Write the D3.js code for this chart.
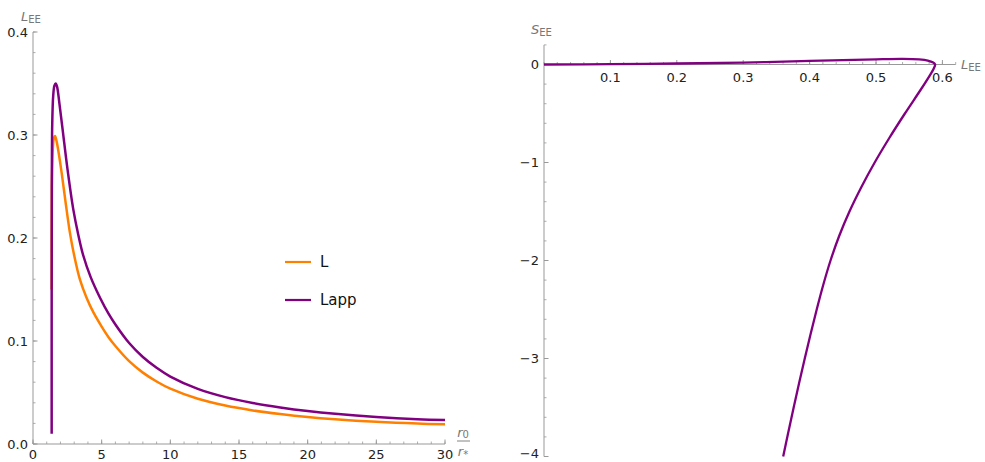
<!DOCTYPE html>
<html>
<head>
<meta charset="utf-8">
<script src="https://cdn.jsdelivr.net/npm/d3@7"></script>
<style>
  body { margin: 0; background: #fff; }
  svg { display: block; }
  text { font-family: "DejaVu Sans", sans-serif; }
</style>
</head>
<body>
<svg id="chart" width="985" height="462"></svg>
<script>
// ---------- Data ----------
// Left panel: L_EE vs r0/r*
const rL    = [1.36, 1.37, 1.40, 1.45, 1.52, 1.60, 1.70, 1.84, 2.09, 2.4, 2.69, 3.0, 3.42, 3.9, 4.39, 5, 5.5, 6, 7, 8, 9, 10, 12, 14, 16, 18, 20, 22, 25, 28, 30];
const valL  = [0.15, 0.25, 0.27, 0.288, 0.297, 0.299, 0.295, 0.285, 0.263, 0.232, 0.205, 0.183, 0.1595, 0.142, 0.128, 0.114, 0.1037, 0.0951, 0.0804, 0.0693, 0.0607, 0.0537, 0.0439, 0.0373, 0.0326, 0.0291, 0.0262, 0.0240, 0.0215, 0.0198, 0.0191];
const rLapp   = [1.36, 1.36, 1.37, 1.40, 1.47, 1.56, 1.65, 1.75, 1.92, 2.16, 2.5, 2.93, 3.3, 3.66, 4.2, 4.88, 5.5, 6, 7, 8, 9, 10, 12, 14, 16, 18, 20, 22, 25, 28, 30];
const valLapp = [0.01, 0.15, 0.25, 0.31, 0.338, 0.348, 0.350, 0.347, 0.331, 0.305, 0.268, 0.228, 0.203, 0.183, 0.162, 0.142, 0.1265, 0.116, 0.098, 0.0845, 0.074, 0.0655, 0.0535, 0.0455, 0.0398, 0.0355, 0.0320, 0.0293, 0.0262, 0.0241, 0.0233];
const seriesNames = ["L", "Lapp"];
const seriesColors = ["#FF8000", "#800080"];

const leftXTicks = [0, 5, 10, 15, 20, 25, 30];
const leftYTicks = [0.0, 0.1, 0.2, 0.3, 0.4];

// Right panel: S_EE vs L_EE (parametric)
const Lee = [0, 0.1, 0.2, 0.3, 0.4, 0.45, 0.5, 0.54, 0.565, 0.578, 0.586, 0.589, 0.587, 0.582, 0.568, 0.5435, 0.52, 0.498, 0.478, 0.46, 0.4445, 0.4315, 0.4205, 0.4107, 0.4015, 0.3927, 0.3842, 0.376, 0.368, 0.3602];
const See = [0, 0.004, 0.01, 0.02, 0.036, 0.045, 0.053, 0.057, 0.052, 0.04, 0.02, 0.0, -0.04, -0.1, -0.25, -0.5, -0.75, -1.0, -1.25, -1.5, -1.75, -2.0, -2.25, -2.5, -2.75, -3.0, -3.25, -3.5, -3.75, -4.0];

const rightXTicks = [0.1, 0.2, 0.3, 0.4, 0.5, 0.6];
const rightYTicks = [0, -1, -2, -3, -4];

// ---------- Drawing ----------
const svg = d3.select("#chart");
const axisColor = "#999999";
const labelColor = "#777777";
const tickTextColor = "#222222";

function fmtMinus(v, dec) {
  const s = d3.format(dec)(Math.abs(v));
  return v < 0 ? "\u2212" + s : s;
}

// Mathematica-style axes (ticks pointing inward)
function drawXAxis(g, x, yPix, domain, majors, minorStep, labelFmt, skipZeroLabel, labelBase) {
  g.append("line").attr("x1", x(domain[0])).attr("x2", x(domain[1]))
    .attr("y1", yPix).attr("y2", yPix).attr("stroke", axisColor).attr("stroke-width", 1);
  const minors = d3.range(Math.ceil(domain[0] / minorStep), Math.floor(domain[1] / minorStep + 1e-9) + 1)
    .map(i => i * minorStep);
  g.selectAll(null).data(minors).enter().append("line")
    .attr("x1", d => x(d)).attr("x2", d => x(d))
    .attr("y1", yPix).attr("y2", yPix - 2.5)
    .attr("stroke", axisColor).attr("stroke-width", 0.8);
  g.selectAll(null).data(majors).enter().append("line")
    .attr("x1", d => x(d)).attr("x2", d => x(d))
    .attr("y1", yPix).attr("y2", yPix - 4.5)
    .attr("stroke", axisColor).attr("stroke-width", 1);
  g.selectAll(null).data(majors.filter(d => !(skipZeroLabel && d === 0))).enter().append("text")
    .attr("x", d => x(d)).attr("y", labelBase)
    .attr("text-anchor", "middle").attr("font-size", 13).attr("fill", tickTextColor)
    .text(labelFmt);
}

function drawYAxis(g, y, xPix, domain, majors, minorStep, labelFmt, maxCenter) {
  g.append("line").attr("x1", xPix).attr("x2", xPix)
    .attr("y1", y(domain[0])).attr("y2", y(domain[1])).attr("stroke", axisColor).attr("stroke-width", 1);
  const minors = d3.range(Math.ceil(domain[0] / minorStep - 1e-9), Math.floor(domain[1] / minorStep + 1e-9) + 1)
    .map(i => i * minorStep);
  g.selectAll(null).data(minors).enter().append("line")
    .attr("x1", xPix).attr("x2", xPix + 2.5)
    .attr("y1", d => y(d)).attr("y2", d => y(d))
    .attr("stroke", axisColor).attr("stroke-width", 0.8);
  g.selectAll(null).data(majors).enter().append("line")
    .attr("x1", xPix).attr("x2", xPix + 4.5)
    .attr("y1", d => y(d)).attr("y2", d => y(d))
    .attr("stroke", axisColor).attr("stroke-width", 1);
  g.selectAll(null).data(majors).enter().append("text")
    .attr("x", xPix - 5).attr("y", d => Math.min(y(d), maxCenter))
    .attr("dy", "0.36em")
    .attr("text-anchor", "end").attr("font-size", 13).attr("fill", tickTextColor)
    .text(labelFmt);
}

// ----- Left panel -----
const xL = d3.scaleLinear().domain([0, 30]).range([33, 445]);
const yL = d3.scaleLinear().domain([0, 0.4]).range([444, 32]);
const gL = svg.append("g");

drawYAxis(gL, yL, xL(0), [0, 0.4], leftYTicks, 0.02, d => d3.format(".1f")(d), 1000);
drawXAxis(gL, xL, yL(0), [0, 30], leftXTicks, 1, d => d3.format("d")(d), false, 458.5);

const lineL = d3.line().x(d => xL(d[0])).y(d => yL(d[1])).curve(d3.curveCatmullRom.alpha(0.5));
const dataSeries = [d3.zip(rL, valL), d3.zip(rLapp, valLapp)];
dataSeries.forEach((pts, i) => {
  gL.append("path").datum(pts).attr("d", lineL)
    .attr("fill", "none").attr("stroke", seriesColors[i])
    .attr("stroke-width", 2.5).attr("stroke-linejoin", "round");
});

// Left axis labels
const yLab = gL.append("text").attr("x", 21).attr("y", 21).attr("fill", labelColor).attr("font-size", 13);
yLab.append("tspan").attr("font-style", "italic").text("L");
yLab.append("tspan").attr("font-size", 10).attr("dy", 2).text("EE");

const fx = 463;
gL.append("text").attr("x", fx).attr("y", 437).attr("text-anchor", "middle")
  .attr("fill", labelColor).attr("font-size", 13)
  .call(t => { t.append("tspan").attr("font-style", "italic").text("r"); t.append("tspan").attr("font-size", 10).attr("dy", 1).text("0"); });
gL.append("line").attr("x1", 457).attr("x2", 470).attr("y1", 441).attr("y2", 441)
  .attr("stroke", labelColor).attr("stroke-width", 0.9);
gL.append("text").attr("x", fx).attr("y", 456).attr("text-anchor", "middle")
  .attr("fill", labelColor).attr("font-size", 13)
  .call(t => { t.append("tspan").attr("font-style", "italic").text("r"); t.append("tspan").attr("font-size", 10).attr("dy", 2).text("*"); });

// Legend
const legY = [262, 300];
seriesNames.forEach((name, i) => {
  gL.append("line").attr("x1", 285).attr("x2", 311).attr("y1", legY[i]).attr("y2", legY[i])
    .attr("stroke", seriesColors[i]).attr("stroke-width", 2.2);
  gL.append("text").attr("x", 320).attr("y", legY[i]).attr("dy", "0.36em")
    .attr("font-size", 15).attr("fill", "#111").text(name);
});

// ----- Right panel -----
const xR = d3.scaleLinear().domain([0, 0.62]).range([544, 955.7]);
const yR = d3.scaleLinear().domain([-4, 0.2]).range([456.5, 44.9]);
const gR = svg.append("g");

drawYAxis(gR, yR, xR(0), [-4, 0.2], rightYTicks, 0.2, d => fmtMinus(d, "d"), 453);
drawXAxis(gR, xR, yR(0), [0, 0.62], rightXTicks, 0.02, d => d3.format(".1f")(d), true, yR(0) + 17);

const lineR = d3.line().x(d => xR(d[0])).y(d => yR(d[1])).curve(d3.curveCatmullRom.alpha(0.5));
gR.append("path").datum(d3.zip(Lee, See)).attr("d", lineR)
  .attr("fill", "none").attr("stroke", "#800080").attr("stroke-width", 2.3)
  .attr("stroke-linejoin", "round");

const sLab = gR.append("text").attr("x", 531).attr("y", 34).attr("fill", labelColor).attr("font-size", 13);
sLab.append("tspan").attr("font-style", "italic").text("S");
sLab.append("tspan").attr("font-size", 10).attr("dy", 2).text("EE");

const lLab = gR.append("text").attr("x", 961).attr("y", 69).attr("fill", labelColor).attr("font-size", 13);
lLab.append("tspan").attr("font-style", "italic").text("L");
lLab.append("tspan").attr("font-size", 10).attr("dy", 2).text("EE");
</script>
</body>
</html>
